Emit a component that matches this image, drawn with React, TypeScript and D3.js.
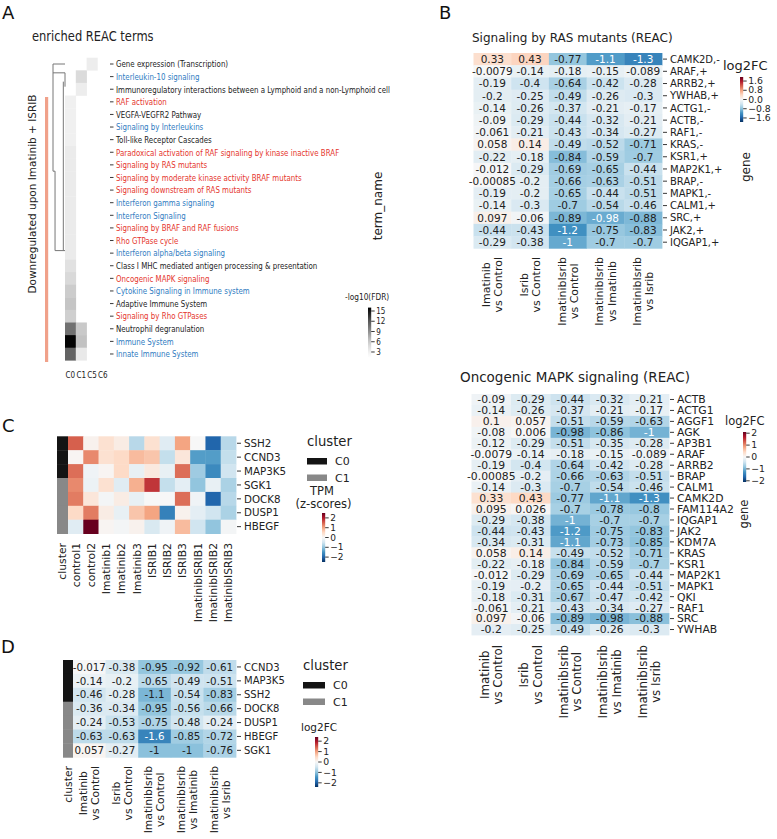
import React, { useEffect, useRef } from 'react';
import * as d3 from 'd3';

const FONT = "'DejaVu Sans', Verdana, sans-serif";
const INK = '#222';

// ---------- Panel A: enriched REAC terms ----------
const termNames = [
  'Gene expression (Transcription)',
  'Interleukin-10 signaling',
  'Immunoregulatory interactions between a Lymphoid and a non-Lymphoid cell',
  'RAF activation',
  'VEGFA-VEGFR2 Pathway',
  'Signaling by Interleukins',
  'Toll-like Receptor Cascades',
  'Paradoxical activation of RAF signaling by kinase inactive BRAF',
  'Signaling by RAS mutants',
  'Signaling by moderate kinase activity BRAF mutants',
  'Signaling downstream of RAS mutants',
  'Interferon gamma signaling',
  'Interferon Signaling',
  'Signaling by BRAF and RAF fusions',
  'Rho GTPase cycle',
  'Interferon alpha/beta signaling',
  'Class I MHC mediated antigen processing & presentation',
  'Oncogenic MAPK signaling',
  'Cytokine Signaling in Immune system',
  'Adaptive Immune System',
  'Signaling by Rho GTPases',
  'Neutrophil degranulation',
  'Immune System',
  'Innate Immune System',
];
const termGroup = ['k', 'b', 'k', 'r', 'k', 'b', 'k', 'r', 'r', 'r', 'r', 'b', 'b', 'r', 'r', 'b', 'k', 'r', 'b', 'k', 'r', 'k', 'b', 'b'];
const clusterCols = ['C0', 'C1', 'C5', 'C6'];
const fdrC0 = [null, null, null, 3.1, 3.1, 3.1, 3.1, 3.5, 3.5, 3.5, 3.5, 3.5, 3.5, 3.5, 3.5, 3.5, 4.3, 5.0, 5.8, 6.3, 5.6, 10.6, 15.8, 11.4];
const fdrC1 = [null, 4.8, 3.4, null, null, null, null, null, null, null, null, null, null, null, null, null, null, null, null, null, null, 6.0, 6.5, 3.7];
const fdrC5 = [3.4, null, null, null, null, null, null, null, null, null, null, null, null, null, null, null, null, null, null, null, null, null, null, null];
const fdrC6 = termNames.map(() => null);
const fdrTicks = [3, 6, 9, 12, 15];
// dendrogram segments as [depth, row] pairs
const dendroSegs = [
  [[0, 0], [1, 0]],
  [[1, 0], [1, 8.5]],
  [[1, 0.7], [0, 0.7]],
  [[0, 0.7], [0, 1.8]],
  [[0.14, 1.4], [0.14, 14.8]],
  [[1, 8.5], [0.83, 8.5]],
  [[0.83, 8.5], [0.83, 14.8]],
  [[0.83, 14.8], [0, 14.8]],
];

// ---------- Panel B ----------
const contrasts = [
  ['Imatinib', 'vs Control'],
  ['Isrib', 'vs Control'],
  ['ImatinibIsrib', 'vs Control'],
  ['ImatinibIsrib', 'vs Imatinib'],
  ['ImatinibIsrib', 'vs Isrib'],
];
const rasGenes = ['CAMK2D,-', 'ARAF,+', 'ARRB2,+', 'YWHAB,+', 'ACTG1,-', 'ACTB,-', 'RAF1,-', 'KRAS,-', 'KSR1,+', 'MAP2K1,+', 'BRAP,-', 'MAPK1,-', 'CALM1,+', 'SRC,+', 'JAK2,+', 'IQGAP1,+'];
const rasLog2fc = [
  [0.33, 0.43, -0.77, -1.1, -1.3],
  [-0.0079, -0.14, -0.18, -0.15, -0.089],
  [-0.19, -0.4, -0.64, -0.42, -0.28],
  [-0.2, -0.25, -0.49, -0.26, -0.3],
  [-0.14, -0.26, -0.37, -0.21, -0.17],
  [-0.09, -0.29, -0.44, -0.32, -0.21],
  [-0.061, -0.21, -0.43, -0.34, -0.27],
  [0.058, 0.14, -0.49, -0.52, -0.71],
  [-0.22, -0.18, -0.84, -0.59, -0.7],
  [-0.012, -0.29, -0.69, -0.65, -0.44],
  [-0.00085, -0.2, -0.66, -0.63, -0.51],
  [-0.19, -0.2, -0.65, -0.44, -0.51],
  [-0.14, -0.3, -0.7, -0.54, -0.46],
  [0.097, -0.06, -0.89, -0.98, -0.88],
  [-0.44, -0.43, -1.2, -0.75, -0.83],
  [-0.29, -0.38, -1, -0.7, -0.7],
];
const rasTicks = [1.6, 0.8, 0, -0.8, -1.6];

const mapkGenes = ['ACTB', 'ACTG1', 'AGGF1', 'AGK', 'AP3B1', 'ARAF', 'ARRB2', 'BRAP', 'CALM1', 'CAMK2D', 'FAM114A2', 'IQGAP1', 'JAK2', 'KDM7A', 'KRAS', 'KSR1', 'MAP2K1', 'MAPK1', 'QKI', 'RAF1', 'SRC', 'YWHAB'];
const mapkLog2fc = [
  [-0.09, -0.29, -0.44, -0.32, -0.21],
  [-0.14, -0.26, -0.37, -0.21, -0.17],
  [0.1, 0.057, -0.51, -0.59, -0.63],
  [-0.08, 0.006, -0.98, -0.86, -1],
  [-0.12, -0.29, -0.51, -0.35, -0.28],
  [-0.0079, -0.14, -0.18, -0.15, -0.089],
  [-0.19, -0.4, -0.64, -0.42, -0.28],
  [-0.00085, -0.2, -0.66, -0.63, -0.51],
  [-0.14, -0.3, -0.7, -0.54, -0.46],
  [0.33, 0.43, -0.77, -1.1, -1.3],
  [0.095, 0.026, -0.7, -0.78, -0.8],
  [-0.29, -0.38, -1, -0.7, -0.7],
  [-0.44, -0.43, -1.2, -0.75, -0.83],
  [-0.34, -0.31, -1.1, -0.73, -0.85],
  [0.058, 0.14, -0.49, -0.52, -0.71],
  [-0.22, -0.18, -0.84, -0.59, -0.7],
  [-0.012, -0.29, -0.69, -0.65, -0.44],
  [-0.19, -0.2, -0.65, -0.44, -0.51],
  [-0.18, -0.31, -0.67, -0.47, -0.42],
  [-0.061, -0.21, -0.43, -0.34, -0.27],
  [0.097, -0.06, -0.89, -0.98, -0.88],
  [-0.2, -0.25, -0.49, -0.26, -0.3],
];
const intTicks = [2, 1, 0, -1, -2];

// ---------- Panel C ----------
const samples = ['control1', 'control2', 'Imatinib1', 'Imatinib2', 'Imatinib3', 'ISRIB1', 'ISRIB2', 'ISRIB3', 'ImatinibISRIB1', 'ImatinibISRIB2', 'ImatinibISRIB3'];
const cGenes = ['SSH2', 'CCND3', 'MAP3K5', 'SGK1', 'DOCK8', 'DUSP1', 'HBEGF'];
const cCluster = ['C0', 'C0', 'C0', 'C1', 'C1', 'C1', 'C1'];
const cZscore = [
  [1.5, 0.1, 0.4, 0.2, -0.7, 0.4, -0.3, 1.0, 0.0, -2.0, -0.7],
  [0.05, 1.2, 0.4, 0.5, 0.8, 0.7, -0.6, 0.3, -1.4, -1.4, -0.6],
  [1.4, -0.1, 0.05, 0.5, -0.2, 0.25, -0.2, 1.4, -0.9, -1.6, -0.5],
  [1.2, -0.15, 0.4, -0.3, 0.9, 1.8, -0.6, -0.25, -1.0, -0.2, -0.8],
  [1.3, 0.3, -0.05, 0.2, -0.2, 0.0, 0.0, 1.4, -0.1, -2.0, -0.7],
  [0.5, 1.3, 0.2, -0.2, 0.7, 1.0, -1.7, 0.1, -0.25, -0.5, -0.8],
  [-0.3, 2.5, 0.05, -0.05, 0.1, -0.4, -0.1, 0.8, -0.5, -1.0, -0.05],
];

// ---------- Panel D ----------
const dGenes = ['CCND3', 'MAP3K5', 'SSH2', 'DOCK8', 'DUSP1', 'HBEGF', 'SGK1'];
const dCluster = ['C0', 'C0', 'C0', 'C1', 'C1', 'C1', 'C1'];
const dLog2fc = [
  [-0.017, -0.38, -0.95, -0.92, -0.61],
  [-0.14, -0.2, -0.65, -0.49, -0.51],
  [-0.46, -0.28, -1.1, -0.54, -0.83],
  [-0.36, -0.34, -0.95, -0.56, -0.66],
  [-0.24, -0.53, -0.75, -0.48, -0.24],
  [-0.63, -0.63, -1.6, -0.85, -0.72],
  [0.057, -0.27, -1, -1, -0.76],
];

// colour maps (matplotlib RdBu_r / Greys)
const RDBU = ['#053061', '#2166ac', '#4393c3', '#92c5de', '#d1e5f0', '#f7f7f7', '#fddbc7', '#f4a582', '#d6604d', '#b2182b', '#67001f'];
const GREYS = ['#ffffff', '#f0f0f0', '#d9d9d9', '#bdbdbd', '#969696', '#737373', '#525252', '#252525', '#000000'];
const rdbu = d3.piecewise(d3.interpolateRgb, RDBU);
const greys = d3.piecewise(d3.interpolateRgb, GREYS);
const clusterColor = { C0: '#141414', C1: '#888888' };
const termColor = { k: INK, r: '#e5352c', b: '#2f7bbf' };

const clamp = (t) => Math.max(0, Math.min(1, t));
const diverging = (vmax) => (v) => rdbu(clamp((v + vmax) / (2 * vmax)));

function luminance(c) {
  const { r, g, b } = d3.rgb(c);
  const f = (x) => { x /= 255; return x <= 0.03928 ? x / 12.92 : Math.pow((x + 0.055) / 1.055, 2.4); };
  return 0.2126 * f(r) + 0.7152 * f(g) + 0.0722 * f(b);
}

function heatmap(g, o) {
  const nC = o.values[0].length;
  const x = d3.scaleBand().domain(d3.range(nC)).range([o.x0, o.x1]);
  const y = d3.scaleBand().domain(d3.range(o.rows.length)).range([o.y0, o.y1]);
  const cells = o.values.flatMap((row, i) => row.map((v, j) => ({ i, j, v })));
  g.append('g').selectAll('rect')
    .data(cells.filter(d => d.v != null))
    .join('rect')
    .attr('x', d => x(d.j)).attr('y', d => y(d.i))
    .attr('width', x.bandwidth() + 0.4).attr('height', y.bandwidth() + 0.4)
    .attr('fill', d => o.color(d.v));
  if (o.annot) {
    g.append('g').selectAll('text')
      .data(cells)
      .join('text')
      .attr('x', d => x(d.j) + x.bandwidth() / 2)
      .attr('y', d => y(d.i) + y.bandwidth() / 2)
      .attr('dy', '0.36em')
      .attr('text-anchor', 'middle')
      .attr('font-size', o.annot)
      .attr('fill', d => luminance(o.color(d.v)) > 0.408 ? INK : '#fff')
      .text(d => String(d.v));
  }
  const lab = g.append('g');
  o.rows.forEach((r, i) => {
    const cy = y(i) + y.bandwidth() / 2;
    lab.append('line').attr('x1', o.x1 + 1).attr('x2', o.x1 + 5).attr('y1', cy).attr('y2', cy).attr('stroke', INK).attr('stroke-width', 0.9);
    lab.append('text').attr('x', o.x1 + 8).attr('y', cy).attr('dy', '0.36em')
      .attr('font-size', o.labelSize).attr('fill', INK).text(r);
  });
  return { x, y };
}

function clusterBar(g, x0, x1, y, clusters) {
  g.append('g').selectAll('rect').data(clusters).join('rect')
    .attr('x', x0).attr('width', x1 - x0)
    .attr('y', (d, i) => y(i)).attr('height', y.bandwidth() + 0.4)
    .attr('fill', d => clusterColor[d]);
}

// rotated (vertical) column labels, lines centre-aligned, block top at `top`
function colLabels(g, centers, labels, top, size) {
  labels.forEach((lines, j) => {
    const texts = lines.map(s => g.append('text').attr('font-size', size).attr('fill', INK).text(s));
    const L = Math.max(...texts.map(t => t.node().getComputedTextLength()));
    const cy = top + L / 2;
    texts.forEach((t, k) => {
      const off = (k - (lines.length - 1) / 2) * size * 1.12;
      t.attr('text-anchor', 'middle').attr('dy', '0.36em')
        .attr('transform', `translate(${centers[j] + off},${cy}) rotate(-90)`);
    });
  });
}

function colorbar(g, id, o) {
  const grad = g.append('defs').append('linearGradient').attr('id', id)
    .attr('x1', 0).attr('y1', 1).attr('x2', 0).attr('y2', 0);
  d3.range(0, 1.0001, 0.05).forEach(t => grad.append('stop').attr('offset', t).attr('stop-color', o.interp(t)));
  g.append('rect').attr('x', o.x).attr('y', o.y0).attr('width', o.w).attr('height', o.y1 - o.y0).attr('fill', `url(#${id})`);
  const s = d3.scaleLinear().domain(o.domain).range([o.y1, o.y0]);
  o.ticks.forEach(v => {
    g.append('line').attr('x1', o.x + o.w).attr('x2', o.x + o.w + 3.5).attr('y1', s(v)).attr('y2', s(v)).attr('stroke', INK).attr('stroke-width', 0.9);
    const t = g.append('text').attr('y', s(v)).attr('dy', '0.34em').attr('font-size', o.size).attr('fill', INK).text(o.fmt(v));
    if (o.sx) t.attr('transform', `translate(${o.x + o.w + 5},0) scale(${o.sx},1)`);
    else t.attr('x', o.x + o.w + 5);
  });
}

const mfmt = (d) => (v) => (v < 0 ? '\u2212' : '') + Math.abs(v).toFixed(d);

function squeezed(g, x, y, s, size, sx, fill = INK, anchor = 'start') {
  return g.append('text').attr('transform', `translate(${x},${y}) scale(${sx},1)`)
    .attr('font-size', size).attr('fill', fill).attr('text-anchor', anchor).text(s);
}

function letter(g, x, y, s) {
  g.append('text').attr('x', x).attr('y', y).attr('font-size', 18).attr('fill', '#111').text(s);
}

function clusterLegend(g, x, y, sw) {
  g.append('text').attr('x', x).attr('y', y).attr('font-size', 13.2).attr('fill', INK).text('cluster');
  ['C0', 'C1'].forEach((c, k) => {
    const yy = y + 12 + k * 16.5;
    g.append('rect').attr('x', x).attr('y', yy).attr('width', sw).attr('height', 6.5).attr('fill', clusterColor[c]);
    g.append('text').attr('x', x + sw + 8).attr('y', yy + 3.3).attr('dy', '0.36em').attr('font-size', 11).attr('fill', INK).text(c);
  });
}

export default function App() {
  const ref = useRef(null);

  useEffect(() => {
    const svg = d3.select(ref.current);
    svg.selectAll('*').remove();

    // ===== A =====
    const gA = svg.append('g');
    letter(gA, 2, 18.5, 'A');
    squeezed(gA, 32, 40.5, 'enriched REAC terms', 14, 0.82);
    const ax = d3.scaleBand().domain(clusterCols).range([65, 108.2]);
    const ay = d3.scaleBand().domain(d3.range(termNames.length)).range([57.7, 360.3]);
    const greyOf = (v) => greys(clamp((v - 1.3) / (16 - 1.3)));
    const fdr = [fdrC0, fdrC1, fdrC5, fdrC6];
    const aCells = fdr.flatMap((col, j) => col.map((v, i) => ({ i, c: clusterCols[j], v }))).filter(d => d.v != null);
    gA.append('g').selectAll('rect').data(aCells).join('rect')
      .attr('x', d => ax(d.c)).attr('y', d => ay(d.i))
      .attr('width', ax.bandwidth() + 0.3).attr('height', ay.bandwidth() + 0.3)
      .attr('fill', d => greyOf(d.v));
    // dendrogram
    const dx = d3.scaleLinear().domain([0, 1]).range([65, 53]);
    const dy = (r) => ay(0) + ay.bandwidth() / 2 + r * ay.step();
    gA.append('g').selectAll('line').data(dendroSegs).join('line')
      .attr('x1', d => dx(d[0][0])).attr('y1', d => dy(d[0][1]))
      .attr('x2', d => dx(d[1][0])).attr('y2', d => dy(d[1][1]))
      .attr('stroke', '#777').attr('stroke-width', 1);
    // term labels
    termNames.forEach((t, i) => {
      const cy = ay(i) + ay.bandwidth() / 2;
      gA.append('line').attr('x1', 110).attr('x2', 113.5).attr('y1', cy).attr('y2', cy).attr('stroke', INK).attr('stroke-width', 0.9);
      squeezed(gA, 116, cy + 3.3, t, 9.3, 0.76, termColor[termGroup[i]]);
    });
    clusterCols.forEach(c => squeezed(gA, ax(c) + ax.bandwidth() / 2, 378, c, 9.5, 0.76, INK, 'middle'));
    // side bar + annotation
    gA.append('rect').attr('x', 45).attr('y', 97).attr('width', 3.2).attr('height', 265).attr('fill', '#f0a18a');
    gA.append('text').attr('transform', 'translate(32,194) rotate(-90)').attr('text-anchor', 'middle').attr('dy', '0.36em')
      .attr('font-size', 10.5).attr('fill', INK).text('Downregulated upon Imatinib + ISRIB');
    gA.append('text').attr('transform', 'translate(378,206) rotate(-90)').attr('text-anchor', 'middle').attr('dy', '0.36em')
      .attr('font-size', 12).attr('fill', INK).text('term_name');
    squeezed(gA, 345, 300, '-log10(FDR)', 9.5, 0.78);
    colorbar(gA, 'cbA', { x: 368, w: 3.2, y0: 307.6, y1: 357.8, domain: [1.3, 16], interp: greys, ticks: fdrTicks, fmt: String, size: 9.5, sx: 0.76 });

    // ===== B top =====
    const gB = svg.append('g');
    letter(gB, 439, 18.5, 'B');
    gB.append('text').attr('x', 472).attr('y', 41.5).attr('font-size', 12).attr('fill', INK).text('Signaling by RAS mutants (REAC)');
    const vB1 = 1.95;
    const hb1 = heatmap(gB, { x0: 473.5, x1: 662, y0: 53, y1: 248.3, rows: rasGenes, values: rasLog2fc, color: diverging(vB1), annot: 10.5, labelSize: 10 });
    colLabels(gB, d3.range(5).map(j => hb1.x(j) + hb1.x.bandwidth() / 2), contrasts, 257, 11);
    gB.append('text').attr('x', 723).attr('y', 70).attr('font-size', 13).attr('fill', INK).text('log2FC');
    colorbar(gB, 'cbB1', { x: 740, w: 3.2, y0: 77, y1: 122, domain: [-vB1, vB1], interp: rdbu, ticks: rasTicks, fmt: mfmt(1), size: 9.3 });
    gB.append('text').attr('transform', 'translate(746,167) rotate(-90)').attr('text-anchor', 'middle').attr('dy', '0.36em')
      .attr('font-size', 12).attr('fill', INK).text('gene');

    // ===== B bottom =====
    gB.append('text').attr('x', 460).attr('y', 382).attr('font-size', 13.5).attr('fill', INK).text('Oncogenic MAPK signaling (REAC)');
    const vB2 = 2.1;
    const hb2 = heatmap(gB, { x0: 471.5, x1: 669, y0: 394, y1: 635, rows: mapkGenes, values: mapkLog2fc, color: diverging(vB2), annot: 10.8, labelSize: 10.8 });
    colLabels(gB, d3.range(5).map(j => hb2.x(j) + hb2.x.bandwidth() / 2), contrasts, 645, 11.8);
    gB.append('text').attr('x', 725).attr('y', 425).attr('font-size', 11.5).attr('fill', INK).text('log2FC');
    colorbar(gB, 'cbB2', { x: 743, w: 3.2, y0: 432, y1: 482, domain: [-vB2, vB2], interp: rdbu, ticks: intTicks, fmt: mfmt(0), size: 9.3 });
    gB.append('text').attr('transform', 'translate(744,514) rotate(-90)').attr('text-anchor', 'middle').attr('dy', '0.36em')
      .attr('font-size', 11.5).attr('fill', INK).text('gene');

    // ===== C =====
    const gC = svg.append('g');
    letter(gC, 2, 431.5, 'C');
    const vC = 2.5;
    const hc = heatmap(gC, { x0: 68, x1: 236, y0: 436.3, y1: 533.6, rows: cGenes, values: cZscore, color: diverging(vC), annot: 0, labelSize: 10.3 });
    clusterBar(gC, 57, 68, hc.y, cCluster);
    colLabels(gC, [62.5, ...d3.range(samples.length).map(j => hc.x(j) + hc.x.bandwidth() / 2)], [['cluster'], ...samples.map(s => [s])], 543, 10.8);
    clusterLegend(gC, 307, 446, 20);
    gC.append('text').attr('x', 322).attr('y', 495).attr('text-anchor', 'middle').attr('font-size', 11.5).attr('fill', INK).text('TPM');
    gC.append('text').attr('x', 323.5).attr('y', 508).attr('text-anchor', 'middle').attr('font-size', 11.5).attr('fill', INK).text('(z-scores)');
    colorbar(gC, 'cbC', { x: 322, w: 3.2, y0: 513, y1: 562, domain: [-vC, vC], interp: rdbu, ticks: intTicks, fmt: mfmt(0), size: 9 });

    // ===== D =====
    const gD = svg.append('g');
    letter(gD, 1, 653, 'D');
    const vD = 2.4;
    const hd = heatmap(gD, { x0: 73, x1: 236, y0: 660, y1: 757.3, rows: dGenes, values: dLog2fc, color: diverging(vD), annot: 10.3, labelSize: 10 });
    clusterBar(gD, 63, 73, hd.y, dCluster);
    colLabels(gD, [68, ...d3.range(5).map(j => hd.x(j) + hd.x.bandwidth() / 2)], [['cluster'], ...contrasts], 766, 10.8);
    clusterLegend(gD, 303, 670, 22);
    gD.append('text').attr('x', 301).attr('y', 731).attr('font-size', 10.5).attr('fill', INK).text('log2FC');
    colorbar(gD, 'cbD', { x: 315, w: 3.2, y0: 737, y1: 787, domain: [-vD, vD], interp: rdbu, ticks: intTicks, fmt: mfmt(0), size: 9.3 });
  }, []);

  return (
    <svg
      ref={ref}
      width={777}
      height={839}
      viewBox="0 0 777 839"
      style={{ position: 'absolute', left: 0, top: 0, background: '#fff', fontFamily: FONT }}
    />
  );
}
